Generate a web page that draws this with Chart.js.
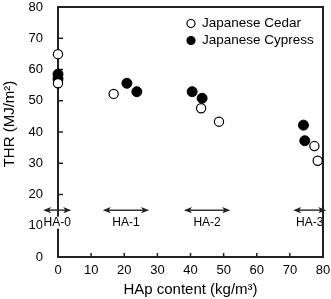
<!DOCTYPE html>
<html>
<head>
<meta charset="utf-8">
<script src="https://cdn.jsdelivr.net/npm/chart.js@4/dist/chart.umd.min.js"></script>
<style>
html,body{margin:0;padding:0;background:#fff;}
#wrap{width:331px;height:299px;}
</style>
</head>
<body>
<div id="wrap"><canvas id="c" width="331" height="299"></canvas></div>
<script>
// ---- data ----
const cedarX = [0, 0, 16.8, 43.2, 48.6, 77.4, 78.4];
const cedarY = [64.9, 55.6, 52.2, 47.6, 43.3, 35.5, 30.8];
const cypressX = [0, 0, 20.8, 23.8, 40.5, 43.5, 74.1, 74.5];
const cypressY = [58.5, 57.0, 55.6, 52.9, 52.9, 50.8, 42.2, 37.2];
const seriesNames = ['Japanese Cedar', 'Japanese Cypress'];
const groupLabels = ['HA-0', 'HA-1', 'HA-2', 'HA-3'];
const groupFrom = [-4.5, 13.5, 38, 71];
const groupTo = [4, 27.5, 52, 81];
const arrowLevel = 15;
const groupLabelLevel = 11;
const xTitle = 'HAp content (kg/m³)';
const yTitle = 'THR (MJ/m²)';

const FONT = '"Liberation Sans", Arial, sans-serif';
const toPts = (xs, ys) => xs.map((x, i) => ({x: x, y: ys[i]}));

const decor = {
  id: 'decor',
  beforeDatasetsDraw(chart) {
    const ctx = chart.ctx;
    const xs = chart.scales.x, ys = chart.scales.y;
    const a = chart.chartArea;
    ctx.save();
    // frame
    ctx.strokeStyle = '#222'; ctx.lineWidth = 2;
    ctx.strokeRect(a.left, a.top, a.right - a.left, a.bottom - a.top);
    // inward ticks
    ctx.lineWidth = 1.5;
    ys.ticks.forEach(t => {
      const y = ys.getPixelForValue(t.value);
      ctx.beginPath(); ctx.moveTo(a.left, y); ctx.lineTo(a.left + 5, y); ctx.stroke();
    });
    xs.ticks.forEach(t => {
      const x = xs.getPixelForValue(t.value);
      ctx.beginPath(); ctx.moveTo(x, a.bottom); ctx.lineTo(x, a.bottom - 4); ctx.stroke();
    });
    // group arrows
    ctx.strokeStyle = '#333'; ctx.lineWidth = 1.5;
    groupLabels.forEach((lab, i) => {
      const x1 = xs.getPixelForValue(groupFrom[i]);
      const x2 = xs.getPixelForValue(groupTo[i]);
      const y = ys.getPixelForValue(arrowLevel);
      const L = 8, H = 3.2;
      ctx.fillStyle = '#222';
      ctx.beginPath(); ctx.moveTo(x1 + 4, y); ctx.lineTo(x2 - 4, y); ctx.stroke();
      ctx.beginPath(); ctx.moveTo(x1, y); ctx.lineTo(x1 + L, y - H); ctx.lineTo(x1 + L - 2, y); ctx.lineTo(x1 + L, y + H); ctx.closePath(); ctx.fill();
      ctx.beginPath(); ctx.moveTo(x2, y); ctx.lineTo(x2 - L, y - H); ctx.lineTo(x2 - L + 2, y); ctx.lineTo(x2 - L, y + H); ctx.closePath(); ctx.fill();
      const cx = (x1 + x2) / 2, cy = ys.getPixelForValue(groupLabelLevel);
      ctx.font = '12px ' + FONT; ctx.textAlign = 'center'; ctx.textBaseline = 'middle';
      const w = ctx.measureText(lab).width;
      ctx.fillStyle = '#fff';
      ctx.fillRect(cx - w / 2 - 1, cy - 6, w + 2, 12);
      ctx.fillStyle = '#000';
      ctx.fillText(lab, cx, cy);
    });
    // re-stroke right border over HA-3 label
    ctx.strokeStyle = '#222'; ctx.lineWidth = 2;
    ctx.beginPath(); ctx.moveTo(a.right, a.top); ctx.lineTo(a.right, a.bottom); ctx.stroke();
    ctx.restore();
  },
  afterDatasetsDraw(chart) {
    const ctx = chart.ctx;
    const a = chart.chartArea;
    ctx.save();
    // legend
    ctx.font = '13.5px ' + FONT; ctx.textAlign = 'left'; ctx.textBaseline = 'middle';
    const lx = 191, ly = [23.5, 40.5];
    chart.data.datasets.forEach((ds, i) => {
      ctx.beginPath(); ctx.arc(lx, ly[i], 4, 0, Math.PI * 2);
      ctx.fillStyle = ds.backgroundColor; ctx.fill();
      ctx.strokeStyle = '#000'; ctx.lineWidth = 1.2; ctx.stroke();
      ctx.fillStyle = '#000';
      ctx.fillText(ds.label, 202, ly[i]);
    });
    // axis titles
    ctx.font = '15px ' + FONT; ctx.textAlign = 'center'; ctx.textBaseline = 'middle';
    ctx.fillText(xTitle, (a.left + a.right) / 2, 290);
    ctx.save();
    ctx.translate(10, 124); ctx.rotate(-Math.PI / 2);
    ctx.fillText(yTitle, 0, 0);
    ctx.restore();
    ctx.restore();
  }
};

new Chart(document.getElementById('c'), {
  type: 'scatter',
  data: {
    datasets: [
      {label: seriesNames[0], data: toPts(cedarX, cedarY), backgroundColor: '#fff', borderColor: '#000', borderWidth: 1.2, pointRadius: 4.6, pointHoverRadius: 4.6},
      {label: seriesNames[1], data: toPts(cypressX, cypressY), backgroundColor: '#000', borderColor: '#000', borderWidth: 1, pointRadius: 5, pointHoverRadius: 5}
    ]
  },
  options: {
    responsive: false,
    animation: false,
    events: [],
    clip: false,
    layout: {padding: 0},
    plugins: {legend: {display: false}, tooltip: {enabled: false}},
    scales: {
      x: {
        type: 'linear', min: 0, max: 80,
        grid: {display: false, drawTicks: false},
        border: {display: false},
        ticks: {stepSize: 10, padding: 6, color: '#000', font: {family: FONT, size: 13}, maxRotation: 0},
        afterFit(s) { s.height = 42; s.paddingLeft = 0; s.paddingRight = 8; }
      },
      y: {
        type: 'linear', min: 0, max: 80,
        grid: {display: false, drawTicks: false},
        border: {display: false},
        ticks: {stepSize: 10, padding: 15, color: '#000', font: {family: FONT, size: 13}},
        afterFit(s) { s.width = 58; s.paddingTop = 7; s.paddingBottom = 0; }
      }
    }
  },
  plugins: [decor]
});
</script>
</body>
</html>
